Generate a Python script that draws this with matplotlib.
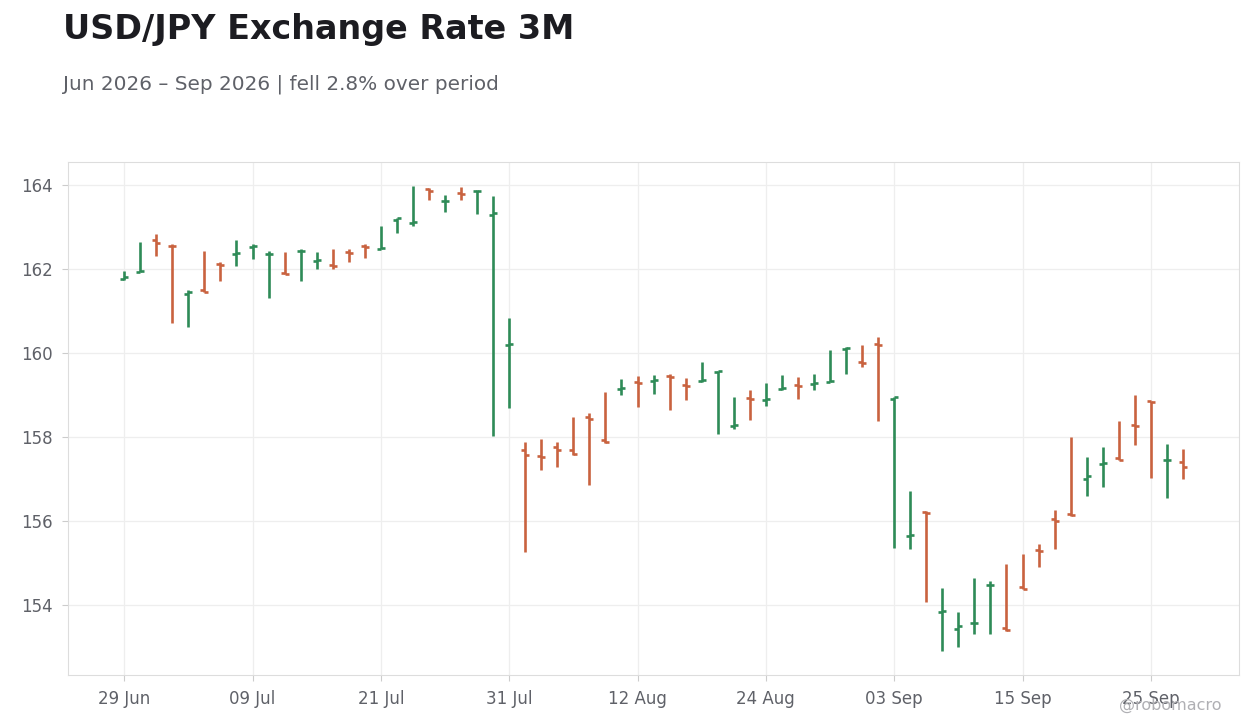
"""
USD/JPY daily OHLC bars over three months.
"""

import numpy as np
import pandas as pd
import matplotlib
matplotlib.use("Agg")
import matplotlib.pyplot as plt

# business days, 29 Jun 2026 .. 29 Sep 2026
dates = pd.bdate_range("2026-06-29", periods=67)

opens = [161.76, 161.93, 162.68, 162.56, 161.41, 161.49, 162.12, 162.36, 162.52, 162.36,
         161.90, 162.42, 162.20, 162.10, 162.41, 162.55, 162.48, 163.17, 163.09, 163.90,
         163.61, 163.81, 163.86, 163.28, 160.18, 157.70, 157.55, 157.75, 157.68, 158.47,
         157.92, 159.15, 159.31, 159.33, 159.45, 159.24, 159.33, 159.54, 158.27, 158.92,
         158.87, 159.14, 159.24, 159.25, 159.31, 160.10, 159.78, 160.21, 158.91, 155.63,
         156.21, 153.83, 153.42, 153.56, 154.47, 153.44, 154.43, 155.30, 156.04, 156.16,
         157.01, 157.36, 157.49, 158.29, 158.85, 157.44, 157.40]
highs = [161.96, 162.65, 162.84, 162.60, 161.51, 162.44, 162.17, 162.70, 162.59, 162.44,
         162.41, 162.48, 162.41, 162.48, 162.48, 162.60, 163.03, 163.22, 163.98, 163.93,
         163.77, 163.95, 163.88, 163.75, 160.84, 157.87, 157.96, 157.87, 158.48, 158.56,
         159.06, 159.39, 159.46, 159.48, 159.51, 159.41, 159.79, 159.57, 158.96, 159.13,
         159.29, 159.48, 159.44, 159.51, 160.06, 160.14, 160.20, 160.39, 158.95, 156.72,
         156.23, 154.41, 153.82, 154.63, 154.58, 154.98, 155.22, 155.46, 156.27, 158.01,
         157.53, 157.77, 158.39, 159.01, 158.86, 157.84, 157.72]
lows = [161.75, 161.92, 162.30, 160.71, 160.63, 161.45, 161.71, 162.08, 162.25, 161.30,
        161.88, 161.71, 161.99, 161.99, 162.16, 162.27, 162.47, 162.87, 163.02, 163.65,
        163.35, 163.65, 163.30, 158.02, 158.68, 155.25, 157.22, 157.29, 157.58, 156.85,
        157.86, 159.01, 158.72, 159.03, 158.65, 158.87, 159.32, 158.06, 158.18, 158.40,
        158.73, 159.11, 158.90, 159.13, 159.30, 159.49, 159.66, 158.37, 155.35, 155.32,
        154.06, 152.90, 152.99, 153.30, 153.30, 153.38, 154.38, 154.90, 155.34, 156.12,
        156.60, 156.82, 157.45, 157.80, 157.02, 156.54, 156.99]
closes = [161.80, 161.95, 162.63, 162.55, 161.46, 161.46, 162.10, 162.38, 162.56, 162.37,
          161.89, 162.44, 162.22, 162.08, 162.39, 162.53, 162.51, 163.21, 163.11, 163.85,
          163.63, 163.79, 163.87, 163.33, 160.21, 157.58, 157.53, 157.70, 157.60, 158.42,
          157.89, 159.17, 159.28, 159.35, 159.44, 159.22, 159.35, 159.56, 158.28, 158.90,
          158.91, 159.16, 159.22, 159.28, 159.33, 160.13, 159.75, 160.20, 158.94, 155.66,
          156.20, 153.85, 153.50, 153.58, 154.48, 153.41, 154.39, 155.28, 156.01, 156.13,
          157.06, 157.38, 157.46, 158.27, 158.83, 157.46, 157.29]

UP = "#2e8b57"
DOWN = "#c9623f"
TEXT = "#1c1c21"
MUTED = "#5f6168"

o = np.array(opens)
h = np.array(highs)
l = np.array(lows)
c = np.array(closes)
x = np.arange(len(dates))
colors = np.where(c >= o, UP, DOWN)

fig = plt.figure(figsize=(12.6, 7.28), dpi=100)
ax = fig.add_axes([0.054, 0.0728, 0.9294, 0.7047])

tick = 0.25
ax.vlines(x, l, h, colors=colors, linewidth=1.9)
ax.hlines(o, x - tick, x, colors=colors, linewidth=1.9)
ax.hlines(c, x, x + tick, colors=colors, linewidth=1.9)

ax.set_xlim(-3.5, 69.5)
ax.set_ylim(152.33, 164.55)
ax.set_yticks([154, 156, 158, 160, 162, 164])
ticks = x[::8]
ax.set_xticks(ticks)
ax.set_xticklabels([d.strftime("%d %b") for d in dates[ticks]])

ax.grid(True, color="#eeeeee", linewidth=0.9)
ax.set_axisbelow(True)
for s in ax.spines.values():
    s.set_color("#dddddd")
ax.tick_params(axis="both", colors="#cccccc", labelcolor=MUTED, labelsize=12,
               length=4, pad=7)

fig.text(0.05, 1 - 13 / 728, "USD/JPY Exchange Rate 3M", fontsize=24,
         fontweight="bold", color=TEXT, va="top", ha="left")
pct = (c[-1] - o[0]) / o[0] * 100
fig.text(0.05, 1 - 75 / 728,
         f"{dates[0]:%b %Y} – {dates[-1]:%b %Y} | {'fell' if pct < 0 else 'rose'} "
         f"{abs(pct):.1f}% over period",
         fontsize=14.4, color=MUTED, va="top", ha="left")
fig.text(1222 / 1260, 1 - 705 / 728, "@robomacro", fontsize=11.5, color="#b0b0b4",
         ha="right", va="center")

fig.savefig("out.png", dpi=100)
